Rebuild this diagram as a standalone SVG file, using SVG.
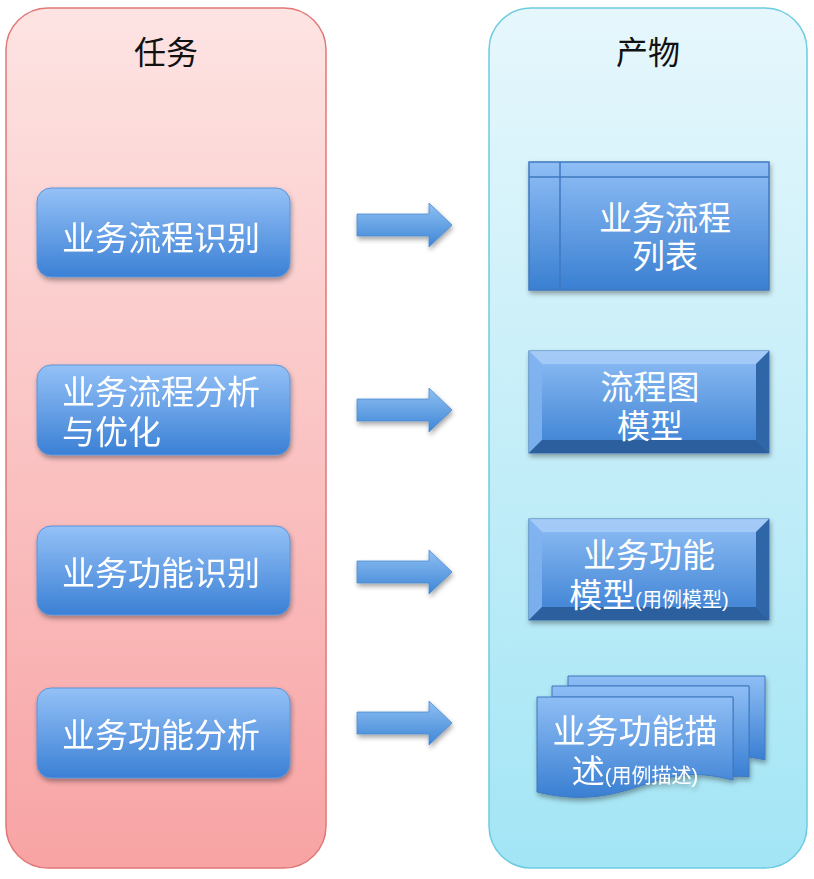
<svg xmlns="http://www.w3.org/2000/svg" width="814" height="879" viewBox="0 0 814 879">
<defs>
<linearGradient id="gPink" x1="0" y1="0" x2="0" y2="1"><stop offset="0" stop-color="#fde4e3"/><stop offset="1" stop-color="#f8a3a4"/></linearGradient>
<linearGradient id="gCyan" x1="0" y1="0" x2="0" y2="1"><stop offset="0" stop-color="#e6f7fc"/><stop offset="1" stop-color="#a3e5f5"/></linearGradient>
<linearGradient id="gBlue" x1="0" y1="0" x2="0" y2="1"><stop offset="0" stop-color="#94c1f7"/><stop offset="1" stop-color="#3b80d5"/></linearGradient>
<linearGradient id="gBlueH" x1="0" y1="0" x2="0" y2="1"><stop offset="0" stop-color="#8fbef5"/><stop offset="1" stop-color="#3a7fd2"/></linearGradient>
<linearGradient id="gArrow" x1="0" y1="0" x2="0" y2="1"><stop offset="0" stop-color="#8fc0f3"/><stop offset="1" stop-color="#3f86d6"/></linearGradient>
<filter id="sh" x="-10%" y="-10%" width="125%" height="130%"><feDropShadow dx="1" dy="3" stdDeviation="2.5" flood-color="#000" flood-opacity="0.35"/></filter>
<g id="arrowShape"><path d="M0,-11 H72 V-22 L95,0 L72,22 V11 H0 Z" fill="url(#gArrow)" stroke="#4a8ad0" stroke-width="0.8"/></g>
</defs>
<style>
.cjk{font-family:"Liberation Sans","Noto Sans CJK SC",sans-serif;}
.title{font-size:32px;fill:#111;}
.lbl{font-size:33px;fill:#fff;}
.rl{font-size:33px;fill:#fff;text-anchor:middle;}
.sm{font-size:20px;}
.node{fill:url(#gBlue);stroke:#5d95d8;stroke-width:1;}
</style>
<rect width="814" height="879" fill="#fff"/>
<g id="panel-left">
<rect x="6" y="8" width="320" height="860" rx="42" fill="url(#gPink)" stroke="#e07878" stroke-width="1.5"/>
<text class="cjk title" x="166" y="64" text-anchor="middle">任务</text>
</g>
<g id="panel-right">
<rect x="489" y="8" width="318" height="860" rx="42" fill="url(#gCyan)" stroke="#6ccbe0" stroke-width="1.5"/>
<text class="cjk title" x="648" y="64" text-anchor="middle">产物</text>
</g>
<g id="task1" filter="url(#sh)">
<rect class="node" x="37" y="188" width="253" height="89" rx="14"/>
<text class="cjk lbl" x="62" y="250">业务流程识别</text>
</g>
<g id="task2" filter="url(#sh)">
<rect class="node" x="37" y="365" width="253" height="90" rx="14"/>
<text class="cjk lbl" x="62" y="404">业务流程分析<tspan x="62" dy="40">与优化</tspan></text>
</g>
<g id="task3" filter="url(#sh)">
<rect class="node" x="37" y="526" width="253" height="89" rx="14"/>
<text class="cjk lbl" x="62" y="585">业务功能识别</text>
</g>
<g id="task4" filter="url(#sh)">
<rect class="node" x="37" y="688" width="253" height="90" rx="14"/>
<text class="cjk lbl" x="62" y="747">业务功能分析</text>
</g>
<g id="connectors" filter="url(#sh)">
<use href="#arrowShape" transform="translate(357,225)"/>
<use href="#arrowShape" transform="translate(357,410)"/>
<use href="#arrowShape" transform="translate(357,572)"/>
<use href="#arrowShape" transform="translate(357,723)"/>
</g>
<g id="prod1">
<rect x="529" y="162" width="240" height="128" fill="url(#gBlueH)" stroke="#3f78c0" stroke-width="1.5" filter="url(#sh)"/>
<line x1="529" y1="177" x2="769" y2="177" stroke="#3f78c0" stroke-width="1.5"/>
<line x1="560" y1="162" x2="560" y2="290" stroke="#3f78c0" stroke-width="1.5"/>
<text class="cjk rl" x="665" y="230">业务流程<tspan x="665" dy="38">列表</tspan></text>
</g>
<g id="prod2">
<rect x="529" y="351" width="240" height="102" fill="url(#gBlueH)" stroke="#3a70b5" stroke-width="1" filter="url(#sh)"/>
<path d="M529,351 H769 L756,364 H542 Z" fill="#a6cbf6" opacity="0.9"/>
<path d="M529,351 L542,364 V440 L529,453 Z" fill="#80b2ee" opacity="0.9"/>
<path d="M769,351 L756,364 V440 L769,453 Z" fill="#2f66a8"/>
<path d="M529,453 L542,440 H756 L769,453 Z" fill="#2c5f9e"/>
<text class="cjk rl" x="650" y="399">流程图<tspan x="650" dy="39">模型</tspan></text>
</g>
<g id="prod3">
<rect x="529" y="519" width="240" height="101" fill="url(#gBlueH)" stroke="#3a70b5" stroke-width="1" filter="url(#sh)"/>
<path d="M529,519 H769 L756,532 H542 Z" fill="#a6cbf6" opacity="0.9"/>
<path d="M529,519 L542,532 V607 L529,620 Z" fill="#80b2ee" opacity="0.9"/>
<path d="M769,519 L756,532 V607 L769,620 Z" fill="#2f66a8"/>
<path d="M529,620 L542,607 H756 L769,620 Z" fill="#2c5f9e"/>
<text class="cjk rl" x="649" y="567">业务功能<tspan x="649" dy="40">模型<tspan class="sm">(用例模型)</tspan></tspan></text>
</g>
<g id="prod4" filter="url(#sh)">
<path d="M568,676 H765 V760 C752,757 745,757 749,757 L749,686 H568 Z" fill="url(#gBlueH)" stroke="#3f78c0" stroke-width="1"/>
<path d="M552,686 H749 V777 C742,776 737,776 733,777 V697 H552 Z" fill="url(#gBlueH)" stroke="#3f78c0" stroke-width="1"/>
<path d="M537,697 H733 V780 C700,772 680,772 640,786 C600,800 570,800 537,792 Z" fill="url(#gBlueH)" stroke="#3f78c0" stroke-width="1"/>
<text class="cjk rl" x="635" y="743">业务功能描<tspan x="635" dy="40">述<tspan class="sm">(用例描述)</tspan></tspan></text>
</g>
</svg>
